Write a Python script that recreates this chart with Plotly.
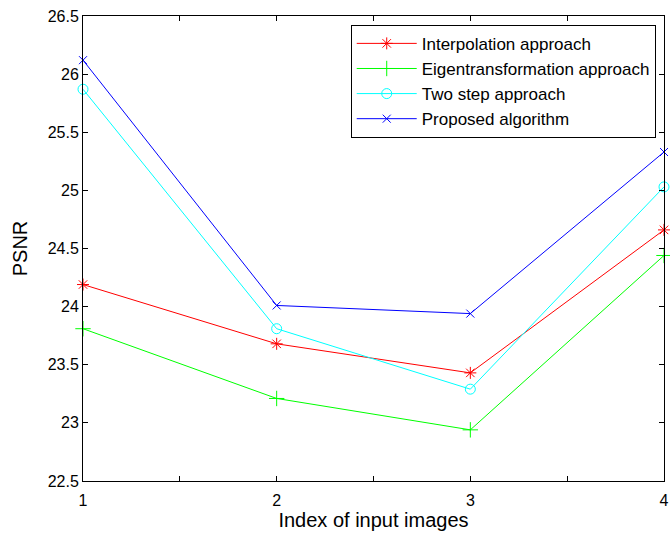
import plotly.graph_objects as go

x_index = [1, 2, 3, 4]
interp = [24.19, 23.68, 23.43, 24.66]
eigen = [23.81, 23.21, 22.94, 24.44]
two_step = [25.87, 23.81, 23.29, 25.03]
proposed = [26.12, 24.01, 23.94, 25.33]

series_names = ["Interpolation approach", "Eigentransformation approach",
                "Two step approach", "Proposed algorithm"]
x_tickvals = [1, 1.5, 2, 2.5, 3, 3.5, 4]
x_ticktext = ["1", "", "2", "", "3", "", "4"]
y_tickvals = [22.5, 23, 23.5, 24, 24.5, 25, 25.5, 26, 26.5]
y_ticktext = ["22.5", "23", "23.5", "24", "24.5", "25", "25.5", "26", "26.5"]

styles = [
    ("#ff0000", "asterisk-open", 10),
    ("#00ff00", "cross-thin-open", 11),
    ("#00ffff", "circle-open", 10),
    ("#0000ff", "x-thin-open", 8),
]

fig = go.Figure()
for i, (vals, name) in enumerate(zip([interp, eigen, two_step, proposed], series_names)):
    color, sym, size = styles[i]
    fig.add_trace(go.Scatter(
        x=x_index, y=vals, name=name, mode="lines+markers",
        line=dict(color=color, width=1),
        marker=dict(symbol=sym, size=size, color=color, line=dict(color=color, width=1)),
        legendgroup=f"g{i}", cliponaxis=False,
    ))

font = "Liberation Sans, Arial, sans-serif"
fig.update_layout(
    width=670, height=535,
    margin=dict(l=83, r=1, t=16, b=54),
    paper_bgcolor="white", plot_bgcolor="white",
    font=dict(family=font, size=16, color="black"),
    showlegend=True,
    legend=dict(
        x=0.4608, y=0.981, xanchor="left", yanchor="top",
        bgcolor="white", bordercolor="black", borderwidth=1,
        font=dict(family=font, size=17, color="black"),
        tracegroupgap=0, itemwidth=60,
    ),
    xaxis=dict(
        range=[1, 4], tickvals=x_tickvals, ticktext=x_ticktext,
        ticks="inside", ticklen=5, tickcolor="black", mirror="ticks",
        showline=True, linecolor="black", linewidth=1, showgrid=False, zeroline=False,
        tickfont=dict(size=16), ticklabelstandoff=5, ticklabeloverflow="allow",
        title=dict(text="Index of input images", font=dict(size=20), standoff=4),
    ),
    yaxis=dict(
        range=[22.5, 26.5], tickvals=y_tickvals, ticktext=y_ticktext,
        ticks="inside", ticklen=5, tickcolor="black", mirror="ticks",
        showline=True, linecolor="black", linewidth=1, showgrid=False, zeroline=False,
        tickfont=dict(size=16),
        title=dict(text="PSNR", font=dict(size=20), standoff=14),
    ),
)

fig.write_html("out.html", config={"displayModeBar": False},
               post_script="document.body.style.margin='0px';")
